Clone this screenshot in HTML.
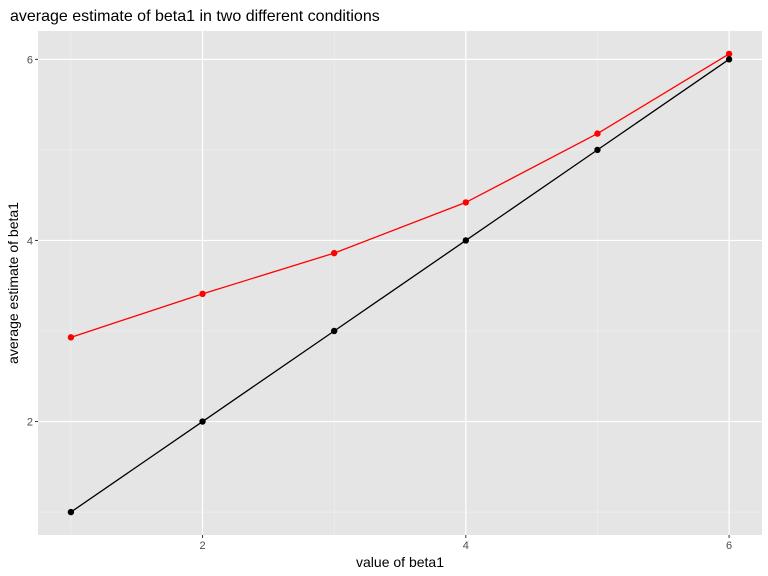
<!DOCTYPE html>
<html><head><meta charset="utf-8"><style>
body{margin:0;background:#fff;}
svg{display:block;font-family:"Liberation Sans",sans-serif;}
</style></head><body>
<svg id="chart" width="768" height="576">
<text x="10" y="21" font-size="16" fill="#000">average estimate of beta1 in two different conditions</text>
<rect x="38" y="31" width="724" height="504" fill="#e5e5e5"/>
<g id="grid"></g>
<g id="marks"></g>
<g id="axes"></g>
<text x="400" y="567" font-size="14" text-anchor="middle" fill="#000">value of beta1</text>
<text transform="translate(18,283) rotate(-90)" font-size="14" text-anchor="middle" fill="#000">average estimate of beta1</text>
</svg>
<script>
const xs = [1,2,3,4,5,6];
const trueVals = [1,2,3,4,5,6];
const estVals = [2.93,3.41,3.86,4.42,5.18,6.06];
const xTicks = [2,4,6];
const yTicks = [2,4,6];
const xMinor = [1,3,5];
const yMinor = [1,3,5];
const L=38,R=762,T=31,B=535;
const xMin=0.75,xMax=6.25,yMin=0.747,yMax=6.313;
const sx=v=>L+(v-xMin)/(xMax-xMin)*(R-L);
const sy=v=>B-(v-yMin)/(yMax-yMin)*(B-T);
const NS="http://www.w3.org/2000/svg";
function mk(tag,attrs,parent){const e=document.createElementNS(NS,tag);for(const k in attrs)e.setAttribute(k,attrs[k]);parent.appendChild(e);return e;}
const grid=document.getElementById('grid'),marks=document.getElementById('marks'),axes=document.getElementById('axes');
xMinor.forEach(v=>{const e=mk('line',{x1:sx(v),x2:sx(v),y1:T,y2:B,stroke:'#f2f2f2','stroke-width':0.6},grid);

});
yMinor.forEach(v=>{const e=mk('line',{x1:L,x2:R,y1:sy(v),y2:sy(v),stroke:'#f2f2f2','stroke-width':0.6},grid);

});
xTicks.forEach(v=>{const e=mk('line',{x1:sx(v),x2:sx(v),y1:T,y2:B,stroke:'#fff','stroke-width':1.2},grid);


const t=mk('line',{x1:sx(v),x2:sx(v),y1:B,y2:B+3,stroke:'#333'},axes);


const l=mk('text',{x:sx(v),y:B+14,'font-size':11,'text-anchor':'middle',fill:'#4d4d4d'},axes);l.textContent=v;

});
yTicks.forEach(v=>{const e=mk('line',{x1:L,x2:R,y1:sy(v),y2:sy(v),stroke:'#fff','stroke-width':1.2},grid);


const t=mk('line',{x1:L-3,x2:L,y1:sy(v),y2:sy(v),stroke:'#333'},axes);


const l=mk('text',{x:L-5,y:sy(v)+4,'font-size':11,'text-anchor':'end',fill:'#4d4d4d'},axes);l.textContent=v;

});
function series(vals,color,name){
const p=mk('polyline',{points:xs.map((x,i)=>sx(x)+','+sy(vals[i])).join(' '),fill:'none',stroke:color,'stroke-width':1.3},marks);


xs.forEach((x,i)=>{const c=mk('circle',{cx:sx(x),cy:sy(vals[i]),r:3.2,fill:color},marks);

});}
series(estVals,'#ff0000','estimate');
series(trueVals,'#000000','true-value');
</script>
</body></html>
